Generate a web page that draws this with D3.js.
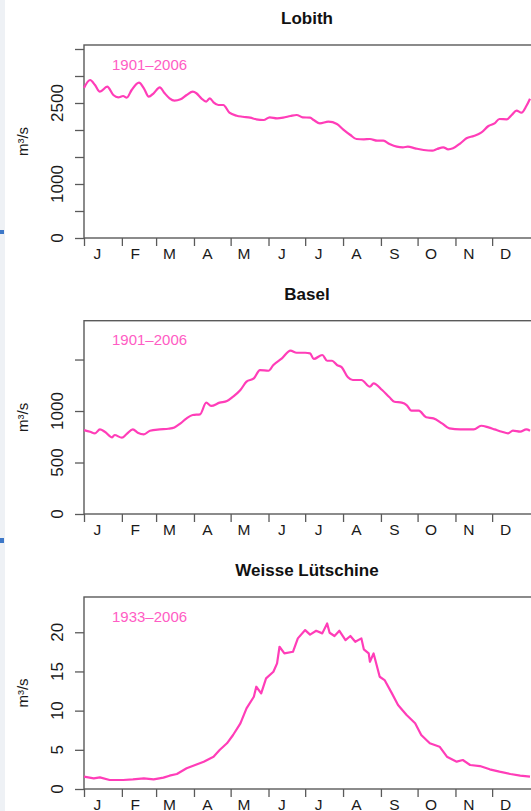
<!DOCTYPE html>
<html>
<head>
<meta charset="utf-8">
<script src="https://cdn.jsdelivr.net/npm/d3@7"></script>
<style>
  html, body { margin: 0; padding: 0; background: #fff; }
  svg { display: block; }
</style>
</head>
<body>
<svg id="chart" width="531" height="811"></svg>
<script>
// ---------------- DATA ----------------
const monthLabels = ["J","F","M","A","M","J","J","A","S","O","N","D"];
const monthStartDays = [1,32,60,91,121,152,182,213,244,274,305,335];

const lobithDays = [1,6,10,14,20,25,29,33,36,40,46,50,54,58,63,67,71,75,80,85,90,93,97,101,104,107,111,115,120,126,131,137,142,148,153,159,164,170,175,180,186,189,194,201,208,213,219,224,230,235,241,246,251,257,262,266,272,279,286,290,295,299,303,309,314,320,326,332,337,341,347,351,355,359,363,366];
const lobithFlow = [2780,2926,2833,2710,2802,2648,2605,2630,2599,2741,2877,2772,2617,2680,2790,2680,2587,2543,2568,2648,2710,2680,2587,2525,2587,2512,2463,2463,2320,2265,2246,2228,2198,2185,2235,2216,2228,2259,2278,2235,2228,2185,2123,2154,2111,2012,1907,1833,1827,1833,1802,1802,1741,1691,1680,1691,1661,1630,1617,1648,1680,1642,1661,1753,1846,1889,1950,2074,2123,2204,2198,2278,2358,2320,2444,2580];

const baselDays = [1,6,10,14,18,24,26,32,36,41,45,50,55,63,70,75,80,85,90,96,101,105,112,118,123,129,134,140,145,152,156,163,170,175,182,186,189,196,200,204,208,212,217,221,228,235,238,245,251,255,261,265,269,275,281,287,294,300,309,314,320,326,332,337,343,348,352,358,363,366];
const baselFlow = [815,799,783,822,799,744,767,741,777,822,789,773,809,822,828,841,880,929,961,968,1081,1049,1081,1097,1139,1204,1285,1317,1398,1391,1447,1512,1586,1566,1566,1560,1505,1544,1488,1488,1447,1424,1327,1301,1301,1236,1269,1204,1133,1090,1081,1058,1003,1003,939,929,880,832,822,822,822,857,841,822,799,783,809,799,822,809];

const weisseDays = [1,9,14,22,33,41,50,58,66,71,77,85,92,99,107,112,118,123,129,134,140,142,146,150,156,159,161,165,172,176,182,186,191,196,200,202,206,210,215,219,223,228,230,234,235,238,243,247,253,258,265,272,277,284,292,298,306,311,317,325,333,341,350,358,366];
const weisseFlow = [1.57,1.36,1.49,1.15,1.15,1.23,1.36,1.23,1.45,1.70,1.91,2.64,3.06,3.49,4.12,4.97,5.83,6.89,8.38,10.29,11.77,13.05,12.2,14.12,14.96,16.03,18.15,17.3,17.51,19.22,20.28,19.7,20.19,19.86,21.13,19.94,19.52,20.19,19.0,19.52,18.79,19.22,17.82,17.3,16.24,17.3,14.32,13.9,12.2,10.71,9.44,8.38,6.89,5.83,5.4,4.12,3.49,3.7,3.06,2.93,2.51,2.21,1.91,1.70,1.57];

const lobithTicks = [0,500,1000,1500,2000,2500,3000,3500];
const lobithTickLabels = [0,1000,2500];
const baselTicks = [0,500,1000,1500];
const baselTickLabels = [0,500,1000];
const weisseTicks = [0,5,10,15,20];
const weisseTickLabels = [0,5,10,15,20];

// ---------------- LAYOUT ----------------
const panels = [
  {title:"Lobith", period:"1901\u20132006", days:lobithDays, flow:lobithFlow, ticks:lobithTicks, labels:lobithTickLabels, top:45, axisY:238, yMax:3574, smooth:true},
  {title:"Basel", period:"1901\u20132006", days:baselDays, flow:baselFlow, ticks:baselTicks, labels:baselTickLabels, top:320.7, axisY:514, yMax:1877, smooth:true},
  {title:"Weisse L\u00fctschine", period:"1933\u20132006", days:weisseDays, flow:weisseFlow, ticks:weisseTicks, labels:weisseTickLabels, top:597, axisY:789, yMax:24.5, smooth:false}
];

const pink = "#ff3db8";
const axisCol = "#5a5a5a";
const font = "'Liberation Sans', Arial, Helvetica, sans-serif";

const svg = d3.select("#chart");

// left edge artefact strip
svg.append("rect").attr("x",0).attr("y",0).attr("width",5).attr("height",811).attr("fill","#eef1f5");
svg.append("rect").attr("x",0).attr("y",230).attr("width",4).attr("height",4).attr("fill","#3d78c8");
svg.append("rect").attr("x",0).attr("y",538).attr("width",4).attr("height",5).attr("fill","#3d78c8");

const x = d3.scaleLinear().domain([1,366]).range([84,530]);

panels.forEach(p => {
  const g = svg.append("g");
  const y = d3.scaleLinear().domain([0,p.yMax]).range([p.axisY,p.top]);

  const yAxis = d3.axisLeft(y).tickValues(p.ticks).tickSize(9).tickSizeOuter(0).tickFormat("");
  const ya = g.append("g").attr("transform",`translate(${x(1)},0)`).call(yAxis);
  ya.select(".domain").remove();
  ya.selectAll(".tick line").attr("stroke",axisCol).attr("stroke-width",1.3);

  g.selectAll(".ylab").data(p.labels).enter().append("text")
    .attr("transform", d => `translate(63,${y(d)}) rotate(-90)`)
    .attr("text-anchor","middle")
    .attr("font-family",font).attr("font-size",17).attr("fill","#1a1a1a")
    .text(d => d);

  const xAxis = d3.axisBottom(x).tickValues(monthStartDays).tickSize(8).tickSizeOuter(0).tickFormat("");
  const xa = g.append("g").attr("transform",`translate(0,${p.axisY})`).call(xAxis);
  xa.select(".domain").remove();
  xa.selectAll(".tick line").attr("stroke",axisCol).attr("stroke-width",1.3);

  g.selectAll(".mlab").data(monthLabels).enter().append("text")
    .attr("x",(d,i) => x(monthStartDays[i] + 11))
    .attr("y", p.axisY + 20.5)
    .attr("text-anchor","middle")
    .attr("font-family",font).attr("font-size",15.5).attr("fill","#1a1a1a")
    .text(d => d);

  g.append("rect").attr("x",x(1)).attr("y",p.top)
    .attr("width",560 - x(1)).attr("height",p.axisY - p.top)
    .attr("fill","none").attr("stroke",axisCol).attr("stroke-width",1.4);

  const line = d3.line().x((d,i) => x(p.days[i])).y(d => y(d))
    .curve(p.smooth ? d3.curveMonotoneX : d3.curveLinear);
  g.append("path").datum(p.flow).attr("d",line)
    .attr("fill","none").attr("stroke",pink).attr("stroke-width",2.2)
    .attr("stroke-linejoin","round");

  g.append("text").attr("x",112).attr("y",p.top + 24.5)
    .attr("font-family",font).attr("font-size",15).attr("fill","#ff5cc4")
    .text(p.period);

  g.append("text").attr("x",(x(1)+x(366))/2).attr("y",p.top - 21)
    .attr("text-anchor","middle")
    .attr("font-family",font).attr("font-size",17).attr("font-weight","bold").attr("fill","#111")
    .text(p.title);

  g.append("text")
    .attr("transform",`translate(28,${(p.top + p.axisY)/2}) rotate(-90)`)
    .attr("text-anchor","middle")
    .attr("font-family",font).attr("font-size",15).attr("fill","#1a1a1a")
    .text("m\u00b3/s");
});
</script>
</body>
</html>
